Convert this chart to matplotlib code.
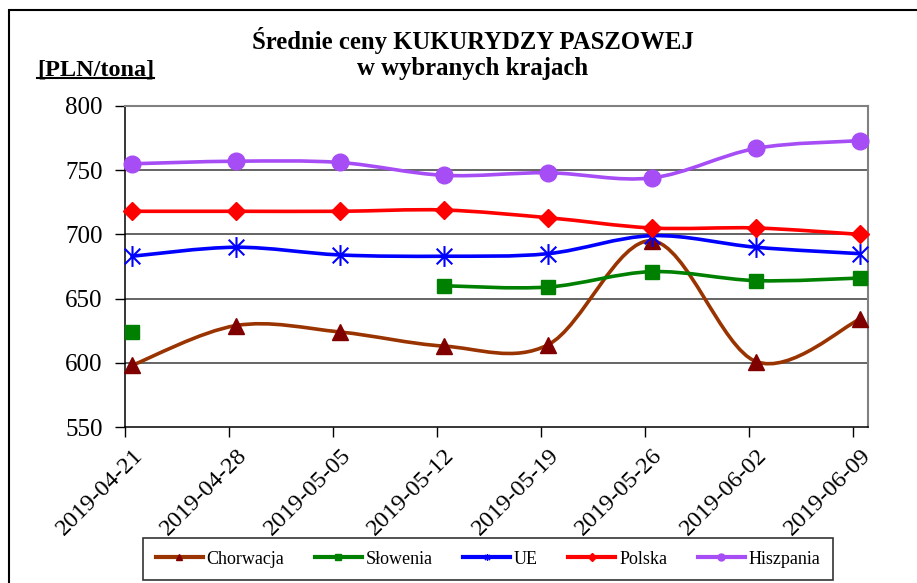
import numpy as np
import matplotlib
matplotlib.use("Agg")
import matplotlib.pyplot as plt
from matplotlib.path import Path
from matplotlib.patches import PathPatch, Rectangle
from matplotlib.lines import Line2D

dates = ["2019-04-21", "2019-04-28", "2019-05-05", "2019-05-12",
         "2019-05-19", "2019-05-26", "2019-06-02", "2019-06-09"]
chorwacja = [598, 629, 624, 613, 614, 695, 601, 634]
slowenia = [624, np.nan, np.nan, 660, 659, 671, 664, 666]
ue = [683, 690, 684, 683, 685, 699, 690, 685]
polska = [718, 718, 718, 719, 713, 705, 705, 700]
hiszpania = [755, 757, 756, 746, 748, 744, 767, 773]

series = [
    ("Chorwacja", chorwacja, "#993300", "#800000", "^", 11, 5),
    ("Słowenia", slowenia, "#008000", "#008000", "s", 10, 5),
    ("UE", ue, "#0000FF", "#0000FF", "ast", 15, 5),
    ("Polska", polska, "#FF0000", "#FF0000", "D", 9, 4),
    ("Hiszpania", hiszpania, "#A64DF5", "#A64DF5", "o", 12, 5),
]

ast = Path([(0, -1), (0, 1), (-0.75, -0.75), (0.75, 0.75), (-0.75, 0.75), (0.75, -0.75)],
           [Path.MOVETO, Path.LINETO, Path.MOVETO, Path.LINETO, Path.MOVETO, Path.LINETO])

serif = "Liberation Serif"
plt.rcParams["font.family"] = [serif, "DejaVu Serif"]

fig = plt.figure(figsize=(9.17, 5.83), dpi=100)
ax = fig.add_axes([125 / 917, 1 - 427 / 583, (868 - 125) / 917, (427 - 106) / 583])

x = np.arange(len(dates), dtype=float)


def smooth_path(xs, ys):
    verts, codes = [], []
    n = len(xs)
    P = np.column_stack([xs, ys])
    verts.append(P[0]); codes.append(Path.MOVETO)
    for i in range(n - 1):
        pm = P[i - 1] if i > 0 else P[i]
        pp = P[i + 2] if i + 2 < n else P[i + 1]
        c1 = P[i] + (P[i + 1] - pm) / 6.0
        c2 = P[i + 1] - (pp - P[i]) / 6.0
        verts += [c1, c2, P[i + 1]]
        codes += [Path.CURVE4] * 3
    return Path(verts, codes)


handles = []
for z, (name, vals, lc, mc, mk, ms, lms) in enumerate(series):
    v = np.array(vals, dtype=float)
    ok = ~np.isnan(v)
    idx = np.where(ok)[0]
    runs = []
    cur = [idx[0]]
    for k in idx[1:]:
        if k == cur[-1] + 1:
            cur.append(k)
        else:
            runs.append(cur); cur = [k]
    runs.append(cur)
    marker = ast if mk == "ast" else mk
    for r in runs:
        if len(r) > 1:
            p = smooth_path(x[r], v[r])
            ax.add_patch(PathPatch(p, fill=False, edgecolor=lc, lw=2.6, zorder=3 + z * 2,
                                   capstyle="round", joinstyle="round"))
    ax.plot(x[ok], v[ok], linestyle="none", marker=marker, markersize=ms,
            markerfacecolor=mc, markeredgecolor=mc, markeredgewidth=1.5 if mk == "ast" else 1,
            zorder=4 + z * 2, clip_on=False)
    handles.append(Line2D([], [], color=lc, lw=3, marker=marker, markersize=lms,
                          markerfacecolor=mc, markeredgecolor=mc, label=name))

ax.set_ylim(550, 800)
ax.set_xlim(-0.067, 7.077)
ax.set_yticks([550, 600, 650, 700, 750, 800])
for yv in [600, 650, 700, 750]:
    ax.axhline(yv, color="#3a3a3a", lw=1.1, zorder=1)

ax.set_xticks(x)
ax.set_xticklabels(dates, rotation=45, ha="right", va="top", rotation_mode="anchor",
                   fontsize=17.5)
ax.tick_params(axis="x", which="major", length=0, pad=13)
ax.set_xticks(x - 0.067, minor=True)
ax.tick_params(axis="x", which="minor", length=7, width=1, color="black", direction="out")
ax.tick_params(axis="y", length=7, width=1, direction="out", labelsize=18, pad=9)

for s in ["left", "bottom"]:
    ax.spines[s].set_color("black")
    ax.spines[s].set_linewidth(1.1)
for s in ["top", "right"]:
    ax.spines[s].set_color("#808080")
    ax.spines[s].set_linewidth(1.5)

fig.text(473 / 917, 1 - 40 / 583, "Średnie ceny KUKURYDZY PASZOWEJ", ha="center", va="center",
         fontsize=17.8, fontweight="bold")
fig.text(473 / 917, 1 - 68 / 583, "w wybranych krajach", ha="center", va="center",
         fontsize=17.8, fontweight="bold")
t = fig.text(37 / 917, 1 - 70 / 583, "[PLN/tona]", ha="left", va="center",
             fontsize=17.5, fontweight="bold")
fig.canvas.draw()
bb = t.get_window_extent(fig.canvas.get_renderer()).transformed(fig.transFigure.inverted())
fig.add_artist(Line2D([bb.x0, bb.x1], [bb.y0 + 0.004, bb.y0 + 0.004], color="black", lw=1.5,
                      transform=fig.transFigure))

fig.add_artist(Rectangle((9 / 917, -0.05), 1.0, 1 - 10 / 583 + 0.05, transform=fig.transFigure,
                         fill=False, edgecolor="black", lw=1.5))

leg = fig.legend(handles=handles, ncol=5, loc="center",
                 bbox_to_anchor=((140 + 836) / 2 / 917, 1 - 559 / 583),
                 frameon=True, fancybox=False, edgecolor="black", fontsize=13,
                 handlelength=2.6, columnspacing=1.7, handletextpad=0.2,
                 borderpad=0.7, borderaxespad=0)
leg.get_frame().set_linewidth(1.2)

fig.savefig("out.png", dpi=100)
